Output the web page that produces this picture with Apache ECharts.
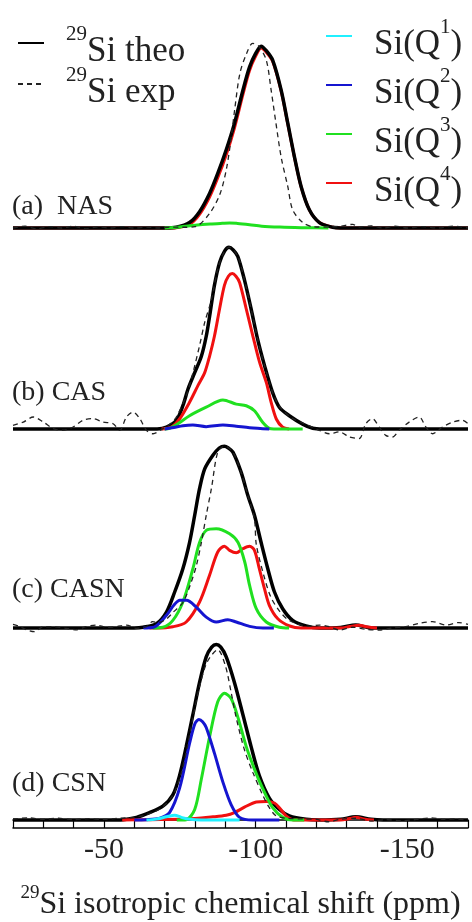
<html>
  <head>
    <meta charset="utf-8">
    <script src="https://cdnjs.cloudflare.com/ajax/libs/echarts/6.0.0/echarts.min.js"></script>
    <style>
      body { margin: 0; background-color: #fff; }
      #chart { width: 472px; height: 922px; }
    </style>
  </head>
  <body>
    <div id="chart"></div>
  </body>
  <script>
    // x range (ppm), axis is reversed
    var xMin = -170, xMax = -20;
    var panelLabels = ['(a)  NAS', '(b) CAS', '(c) CASN', '(d) CSN'];

    // (a) NAS
    var aTheo = [[-20,0],[-70,0],[-73.8,0.004],[-78.2,0.03],[-81.5,0.09],[-84.8,0.19],[-87.5,0.3],[-90.3,0.43],[-93,0.575],[-95.8,0.758],[-98,0.886],[-100,0.96],[-101.8,1.0],[-103.5,0.975],[-105.6,0.923],[-108.4,0.758],[-110.6,0.575],[-112.8,0.39],[-115,0.227],[-117.7,0.1],[-121,0.03],[-125.4,0.004],[-128,0],[-170,0]];
    var aQ3 = [[-70,0],[-75,0.006],[-80,0.015],[-85,0.022],[-89,0.026],[-91.4,0.028],[-94,0.025],[-98,0.018],[-102,0.01],[-108,0.005],[-115,0.002],[-124,0]];
    var aQ4 = [[-20,0],[-70,0],[-73.8,0.002],[-78.2,0.02],[-81.5,0.075],[-84.8,0.17],[-87.5,0.276],[-90.3,0.403],[-93,0.55],[-95.8,0.735],[-98,0.868],[-100,0.945],[-101.8,0.99],[-103.5,0.967],[-105.6,0.917],[-108.4,0.754],[-110.6,0.572],[-112.8,0.388],[-115,0.226],[-117.7,0.1],[-121,0.03],[-125.4,0.004],[-128,0],[-170,0]];
    var aExp = [[-20,0],[-24,0.01],[-28,-0.005],[-32,0.008],[-36,0],[-40,0.01],[-44,-0.005],[-48,0.006],[-52,0],[-56,0.008],[-60,0],[-64,0.005],[-68,0],[-72,0.005],[-76,0.004],[-80,0.007],[-84.8,0.08],[-88.3,0.19],[-90.5,0.337],[-92.1,0.52],[-93.2,0.667],[-94.8,0.85],[-97,0.96],[-99,1.015],[-101,1.0],[-103.5,0.923],[-105.1,0.758],[-106.7,0.575],[-108.4,0.39],[-110.6,0.227],[-112.2,0.1],[-115.5,0.03],[-119,0.007],[-124,0.005],[-128,0.01],[-132,0.02],[-134,0.005],[-138,0.012],[-142,0],[-146,0.01],[-150,0],[-155,0.008],[-160,0],[-165,0.01],[-170,0]];

    // (b) CAS
    var bTheo = [[-20,0],[-67.5,0],[-70.6,0.01],[-73.8,0.046],[-76,0.128],[-77.7,0.22],[-79.9,0.31],[-82.1,0.4],[-83.7,0.51],[-85,0.64],[-86.4,0.79],[-88.1,0.916],[-89.8,0.98],[-91.2,1.0],[-92.6,0.985],[-94.1,0.95],[-96.3,0.82],[-98.5,0.66],[-100.7,0.49],[-102.9,0.35],[-105.6,0.2],[-107.8,0.12],[-111.1,0.073],[-115.5,0.027],[-118.8,0.004],[-122,0],[-170,0]];
    var bQ2 = [[-70,0],[-73,0.008],[-76,0.018],[-79.3,0.022],[-83.7,0.013],[-89.2,0.022],[-93.6,0.015],[-98,0.007],[-104.5,0]];
    var bQ3 = [[-70,0],[-71.6,0.003],[-74.5,0.03],[-78.2,0.073],[-83.7,0.12],[-89.2,0.16],[-93.6,0.137],[-96.9,0.128],[-99.6,0.1],[-102.3,0.037],[-104.5,0.003],[-106,0],[-115.5,0]];
    var bQ4 = [[-69,0],[-72.2,0.01],[-74.9,0.055],[-78.2,0.147],[-81,0.24],[-83.2,0.31],[-84.8,0.4],[-86.4,0.51],[-88.1,0.66],[-89.7,0.79],[-91,0.84],[-92.3,0.855],[-93.5,0.84],[-94.7,0.806],[-96.9,0.66],[-99.1,0.51],[-101.3,0.366],[-103.5,0.256],[-105.1,0.147],[-106.8,0.055],[-108.9,0.01],[-111,0]];
    var bExp = [[-20,0.02],[-23.4,0.038],[-26.7,0.066],[-30,0.038],[-33.3,0.002],[-36.5,-0.007],[-39.8,0.011],[-43.1,0.048],[-46.4,0.057],[-49.7,0.038],[-53,0.029],[-55.2,-0.007],[-57.4,0.066],[-59.6,0.093],[-61.8,0.057],[-64,-0.007],[-66.2,-0.026],[-69.4,0.002],[-72,0.03],[-74,0.07],[-77.1,0.183],[-78.8,0.275],[-81.5,0.458],[-83.2,0.586],[-85.4,0.71],[-87.5,0.88],[-89.5,0.97],[-91.2,1.0],[-94.1,0.95],[-96.3,0.82],[-98.5,0.66],[-100.7,0.49],[-102.9,0.35],[-105.6,0.2],[-108,0.12],[-112,0.06],[-116,0.03],[-121,-0.007],[-124.3,-0.026],[-127.6,-0.016],[-130.9,-0.044],[-134.1,-0.053],[-136.3,0.029],[-138.5,0.057],[-140.7,0.011],[-142.9,-0.035],[-145.1,-0.044],[-147.3,-0.007],[-150.6,0.038],[-153.9,0.066],[-156.1,0.011],[-158.3,-0.026],[-161.6,0.011],[-164.9,0.038],[-168.1,0.048],[-170,0.03]];

    // (c) CASN
    var cTheo = [[-20,0],[-60,0],[-62.9,0.004],[-67.3,0.024],[-70.6,0.088],[-73.3,0.198],[-76,0.326],[-78.2,0.47],[-79.9,0.62],[-81.5,0.766],[-83.2,0.875],[-85.9,0.95],[-88,0.99],[-89.7,1.0],[-91,0.99],[-92.5,0.967],[-95.2,0.857],[-97.4,0.73],[-99.6,0.62],[-101.8,0.47],[-104,0.326],[-106.2,0.198],[-108.9,0.106],[-112.2,0.042],[-116.6,0.011],[-121,0],[-128,0.003],[-133,0.016],[-137,0.003],[-140,0],[-170,0]];
    var cQ2 = [[-63,0],[-66.5,0.005],[-70.6,0.07],[-73,0.125],[-75,0.152],[-77.2,0.152],[-80.4,0.115],[-83.7,0.06],[-87,0.033],[-90.8,0.046],[-93.6,0.033],[-98,0.009],[-102.4,0],[-106,0]];
    var cQ3 = [[-66,0],[-69.4,0.004],[-72.7,0.042],[-76,0.143],[-79.3,0.326],[-81.5,0.47],[-83.7,0.537],[-87,0.546],[-91.4,0.518],[-94.2,0.47],[-96.4,0.363],[-98,0.234],[-100.2,0.106],[-103.5,0.033],[-107.8,0.004],[-111,0]];
    var cQ4 = [[-65,0],[-67.3,0],[-72.7,0.007],[-77.1,0.033],[-81.5,0.143],[-84.8,0.29],[-87.5,0.418],[-89.7,0.45],[-91.4,0.427],[-93.6,0.414],[-95.8,0.436],[-98,0.449],[-99.6,0.427],[-101.2,0.326],[-102.9,0.216],[-104.5,0.125],[-107.3,0.051],[-111.2,0.011],[-115,0],[-128,0],[-131,0.008],[-134,0.015],[-137,0.005],[-140,0]];
    var cExp = [[-20,0.02],[-22,0.01],[-24.5,-0.01],[-27,-0.02],[-30,0.007],[-33,0.007],[-37.7,-0.002],[-41,-0.01],[-44,0.007],[-47.5,0.016],[-51,0.004],[-54,0.007],[-57.4,0.016],[-60.7,-0.002],[-64,0.007],[-66,0.035],[-68,0.03],[-70.6,0.05],[-73,0.09],[-76,0.14],[-78.5,0.24],[-80.4,0.34],[-82.1,0.47],[-83.7,0.62],[-85.4,0.766],[-87.5,0.967],[-89.7,1.0],[-92.5,0.967],[-95.2,0.857],[-97.4,0.73],[-99.6,0.6],[-100.2,0.46],[-102.5,0.3],[-105,0.17],[-108,0.09],[-111.2,0.04],[-117.7,0.01],[-121,0.016],[-124.3,0.007],[-127.6,-0.011],[-132,0.004],[-136.3,-0.007],[-140.7,-0.011],[-145,0],[-149.5,0.007],[-153.9,0.026],[-158.3,0.035],[-162.7,0.016],[-167,0.03],[-170,0.02]];

    // (d) CSN
    var dTheo = [[-20,0],[-52,0],[-56.3,0.002],[-60.7,0.015],[-65,0.042],[-69.4,0.079],[-72.7,0.143],[-74.9,0.253],[-77.1,0.418],[-79.3,0.6],[-81.5,0.784],[-83.7,0.93],[-85.5,0.985],[-87,1.0],[-88.5,0.985],[-90.3,0.93],[-93,0.784],[-95.8,0.6],[-98.5,0.418],[-101.2,0.253],[-104.5,0.125],[-107.8,0.06],[-111.1,0.024],[-116.6,0.004],[-121,0],[-128,0.004],[-133,0.018],[-138,0.004],[-142,0],[-170,0]];
    var dQ1 = [[-64,0],[-67.3,0.005],[-70.6,0.018],[-73.3,0.027],[-75.5,0.015],[-78.2,0.004],[-82,0],[-94.7,0]];
    var dQ2 = [[-60,0],[-63.9,0.002],[-68.4,0.011],[-71.6,0.042],[-74.9,0.18],[-78.2,0.436],[-80,0.55],[-81.3,0.573],[-82.5,0.56],[-83.7,0.527],[-86.4,0.381],[-89.2,0.216],[-91.9,0.088],[-94.7,0.015],[-99,0],[-107.8,0]];
    var dQ3 = [[-74,0],[-77.1,0.002],[-79.9,0.06],[-82.1,0.234],[-84.8,0.473],[-87.5,0.674],[-89.7,0.723],[-91.9,0.692],[-94.2,0.582],[-96.9,0.418],[-99.6,0.29],[-102.3,0.18],[-105.6,0.07],[-108.9,0.015],[-112.2,0],[-116,0]];
    var dQ4 = [[-56,0],[-65,0.002],[-77.1,0.005],[-85.9,0.018],[-90.3,0.027],[-93,0.042],[-96.3,0.073],[-100.2,0.103],[-103.5,0.106],[-106.2,0.097],[-107.8,0.07],[-110,0.024],[-112.2,0.002],[-115,0],[-128,0],[-131,0.008],[-133,0.015],[-136,0.005],[-139,0]];
    var dExp = [[-20,0.005],[-25,0.012],[-30,0.004],[-35,0.01],[-40,0.002],[-45,0.008],[-50,0.003],[-55,0.01],[-60,0.015],[-64,0.03],[-69,0.07],[-73,0.15],[-75.5,0.27],[-77.5,0.42],[-79.5,0.6],[-81.5,0.76],[-84,0.9],[-87.5,0.97],[-90,0.88],[-92,0.72],[-93.6,0.582],[-96.3,0.4],[-99.1,0.27],[-102.3,0.143],[-104.5,0.07],[-106.7,0.024],[-110,0.01],[-116,0.006],[-120,0.003],[-124,-0.01],[-128,0.004],[-133,0.01],[-138,-0.006],[-143,0.002],[-148,-0.004],[-153,0.003],[-158,0.012],[-162,0.004],[-166,0.006],[-170,0]];

    // draw order per panel (later = on top)
    var panels = [
        [['Q4', aQ4], ['theo', aTheo], ['Q3', aQ3], ['exp', aExp]],
        [['theo', bTheo], ['Q4', bQ4], ['Q3', bQ3], ['Q2', bQ2], ['exp', bExp]],
        [['theo', cTheo], ['Q4', cQ4], ['Q3', cQ3], ['Q2', cQ2], ['exp', cExp]],
        [['theo', dTheo], ['Q4', dQ4], ['Q3', dQ3], ['Q2', dQ2], ['Q1', dQ1], ['exp', dExp]]
    ];
    var baselines = [228, 429, 628, 827];

    var colors = { theo: '#000', exp: '#222', Q1: '#20f0ff', Q2: '#1515d0', Q3: '#20e020', Q4: '#f01010' };
    var serif = 'Liberation Serif';

    var chart = echarts.init(document.getElementById('chart'));

    var grids = [], xAxes = [], yAxes = [], series = [], titles = [];
    for (let i = 0; i < 4; i++) {
        grids.push({ left: 13, right: 4, top: baselines[i] - 200, height: 200 });
        xAxes.push({ type: 'value', gridIndex: i, min: xMin, max: xMax, inverse: true, show: false });
        yAxes.push({ type: 'value', gridIndex: i, min: 0, max: 1.1, show: false });
        for (let s of panels[i]) {
            var key = s[0];
            series.push({
                name: key, type: 'line', xAxisIndex: i, yAxisIndex: i,
                data: s[1], showSymbol: false, symbol: 'none',
                smooth: 0.3, clip: false,
                color: colors[key],
                lineStyle: key === 'exp' ? { color: colors[key], width: 1.3, type: [5, 4] }
                                         : { color: colors[key], width: key === 'theo' ? 3.5 : 3 }
            });
        }
        titles.push({ text: panelLabels[i], left: 12, top: [193, 379, 576, 770][i], padding: 0,
                      textStyle: { fontFamily: serif, fontSize: 28, fontWeight: 'normal', color: '#222' } });
    }
    // bottom ruler axis on the last panel
    xAxes[3] = {
        type: 'value', gridIndex: 3, min: xMin, max: xMax, inverse: true, interval: 10,
        axisLine: { lineStyle: { color: '#000', width: 1.5 } },
        axisTick: { length: 8, lineStyle: { color: '#000', width: 1.2 } },
        splitLine: { show: false },
        axisLabel: { margin: 15, fontFamily: serif, fontSize: 30, color: '#222',
                     formatter: function (v) { return v % 50 === 0 ? String(v) : ''; } },
        name: '{sup|29}{b|Si isotropic chemical shift (ppm)}', nameLocation: 'middle', nameGap: 64,
        nameTextStyle: { rich: {
            sup: { fontFamily: serif, fontSize: 19, color: '#222', verticalAlign: 'bottom', padding: [0, 0, 18, 0] },
            b: { fontFamily: serif, fontSize: 32, color: '#222', verticalAlign: 'bottom' } } }
    };
    xAxes.push({ type: 'value', gridIndex: 3, min: xMin, max: xMax, inverse: true, position: 'bottom', offset: 8,
                 axisLine: { onZero: false, lineStyle: { color: '#000', width: 1.5 } },
                 axisTick: { show: false }, axisLabel: { show: false }, splitLine: { show: false } });

    var legendRich = {
        sup: { fontFamily: serif, fontSize: 21, color: '#222', verticalAlign: 'bottom', padding: [0, 0, 24, 0] },
        b: { fontFamily: serif, fontSize: 35, color: '#222', verticalAlign: 'bottom' }
    };
    function legendFmt(name) {
        if (name === 'theo') return '{sup|29}{b|Si theo}';
        if (name === 'exp') return '{sup|29}{b|Si exp}';
        return '{b|Si(Q}{sup|' + name.slice(1) + '}{b|)}';
    }
    function makeLegend(names, left, top, gap, padLeft) {
        return { data: names, left: left, top: top, orient: 'vertical', itemWidth: 26, itemHeight: 14, itemGap: gap,
                 padding: 0, formatter: legendFmt, itemStyle: { opacity: 0 },
                 textStyle: { rich: legendRich, padding: [7, 0, 0, padLeft] } };
    }

    var option = {
        animation: false,
        title: titles,
        legend: [
            makeLegend(['theo'], 17, 24, 0, 17),
            makeLegend(['exp'], 17, 65, 0, 17),
            makeLegend(['Q1', 'Q2', 'Q3', 'Q4'], 325, 17, 4, 17)
        ],
        grid: grids,
        xAxis: xAxes,
        yAxis: yAxes,
        series: series
    };
    chart.setOption(option);
  </script>
</html>
